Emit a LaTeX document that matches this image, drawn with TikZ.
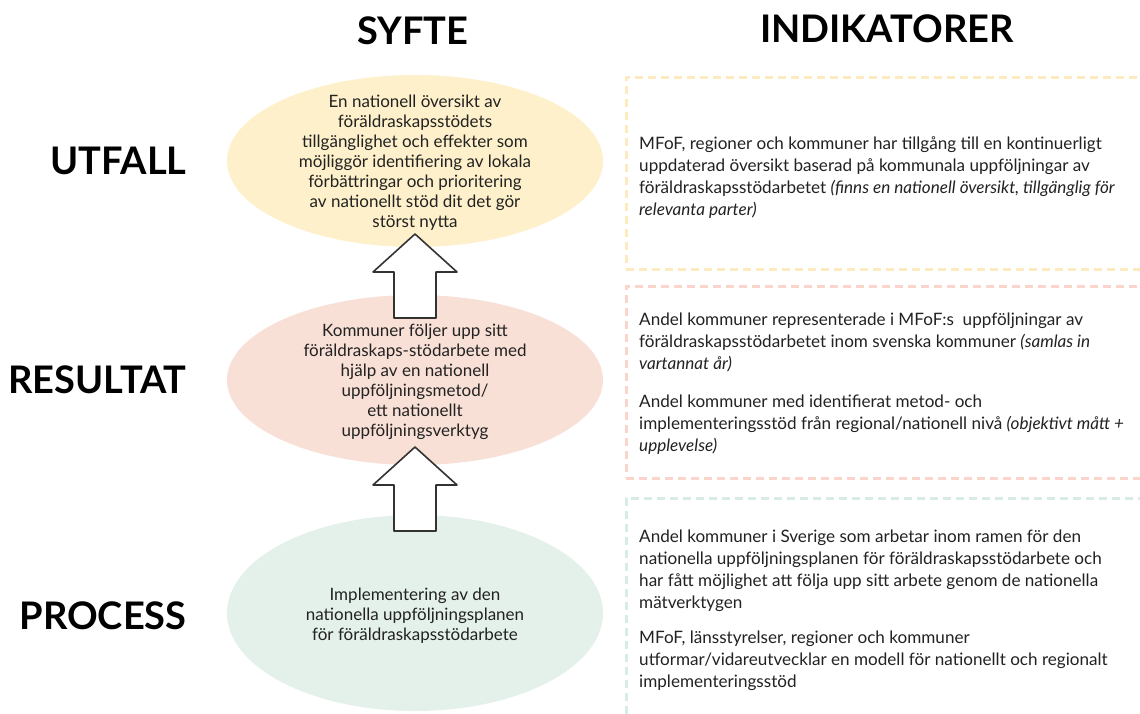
\documentclass[tikz,border=0pt]{standalone}
\usepackage{fontspec}
\setmainfont{Lato}
\usetikzlibrary{positioning,shapes.geometric}
\definecolor{gulbg}{HTML}{FDF0CA}
\definecolor{rosabg}{HTML}{F9E0D7}
\definecolor{gronbg}{HTML}{E4F1EA}
\definecolor{brod}{HTML}{222222}
\newcommand{\pilupp}[1]{%
  \draw[pil] ([shift={(-21,42)}]#1) -- ++(0,-46) -- ++(-21,0)
    -- ([shift={(0,-42)}]#1) -- ([shift={(42,-4)}]#1) -- ++(-21,0) -- ++(0,46) -- cycle;}
\tikzset{
  every node/.style={
    inner sep=0pt,
    text=brod
  },
  rubrik/.style={font=\fontsize{38}{42}\selectfont\bfseries, text=black},
  syfte/.style={ellipse, minimum width=376pt, minimum height=172pt},
  syftetext/.style={align=center, font=\fontsize{17}{20}\selectfont},
  indbox/.style={draw, dash pattern=on 8pt off 5pt, line width=2.5pt,
    minimum width=530pt, minimum height=192pt, anchor=north west},
  indtext/.style={align=left, anchor=west, font=\fontsize{17.1}{22}\selectfont},
  pil/.style={draw=black!80, line width=1.6pt, fill=white, line join=round}
}

\begin{document}
\begin{tikzpicture}[x=1pt, y=-1pt]
          \useasboundingbox (0,0) rectangle (1140,713);
          \fill[white] (0,0) rectangle (1140,713);
          \node[rubrik] (Syfte) at (413,31) {SYFTE};
          \node[rubrik] (Indikatorer) at (887,29) {INDIKATORER};
          \node[indbox, draw=gulbg!95!orange] (Ind1) at (625,76) {};
          \node[indbox, draw=rosabg!95!red] (Ind2) at (625,285) {};
          \node[indbox, draw=gronbg!95!teal, minimum height=240pt] (Ind3) at (625,497) {};
          \node[syfte, fill=gulbg] (Ut) at (415,161) {};
          \node[syfte, on grid, below=219pt of Ut, fill=rosabg, minimum height=170pt] (Re) {};
          \node[syfte, on grid, below=233pt of Re, fill=gronbg, minimum height=196pt] (Pr) {};
          \node[rubrik, left=40pt of Ut] (Utfall) {UTFALL};
          \node[rubrik, left=40pt of Re] (Resultat) {RESULTAT};
          \node[rubrik, left=40pt of Pr, yshift=-3pt] (Process) {PROCESS};
          \coordinate (Pil1) at (415,276);
          \coordinate (Pil2) at (415,489);
          \pilupp{Pil1}
          \pilupp{Pil2}
          \node[syftetext] (UtText) at ([yshift=-2pt]Ut) {En nationell översikt av\\föräldraskapsstödets\\tillgänglighet och effekter som\\möjliggör identifiering av lokala\\förbättringar och prioritering\\av nationellt stöd dit det gör\\störst nytta};
          \node[syftetext] (ReText) at ([yshift=-2pt]Re) {Kommuner följer upp sitt\\föräldraskaps-stödarbete med\\hjälp av en nationell\\uppföljningsmetod/\\ett nationellt\\uppföljningsverktyg};
          \node[syftetext] (PrText) at ([yshift=-3pt]Pr) {Implementering av den\\nationella uppföljningsplanen\\för föräldraskapsstödarbete};
          \node[indtext] (Ind1Text) at ([xshift=14pt, yshift=-4pt]Ind1.west) {MFoF, regioner och kommuner har tillgång till en kontinuerligt\\uppdaterad översikt baserad på kommunala uppföljningar av\\föräldraskapsstödarbetet \textit{(finns en nationell översikt, tillgänglig för}\\\textit{relevanta parter)}};
          \node[indtext] (Ind2Text) at ([xshift=14pt, yshift=-1pt]Ind2.west) {Andel kommuner representerade i MFoF:s\ \ uppföljningar av\\föräldraskapsstödarbetet inom svenska kommuner \textit{(samlas in}\\\textit{vartannat år)}\\[16pt]Andel kommuner med identifierat metod- och\\implementeringsstöd från regional/nationell nivå \textit{(objektivt mått +}\\\textit{upplevelse)}};
          \node[indtext, anchor=north west] (Ind3Text) at ([xshift=14pt, yshift=-33pt]Ind3.north west) {Andel kommuner i Sverige som arbetar inom ramen för den\\nationella uppföljningsplanen för föräldraskapsstödarbete och\\har fått möjlighet att följa upp sitt arbete genom de nationella\\mätverktygen\\[13pt]MFoF, länsstyrelser, regioner och kommuner\\utformar/vidareutvecklar en modell för nationellt och regionalt\\implementeringsstöd};
        \end{tikzpicture}
\end{document}
